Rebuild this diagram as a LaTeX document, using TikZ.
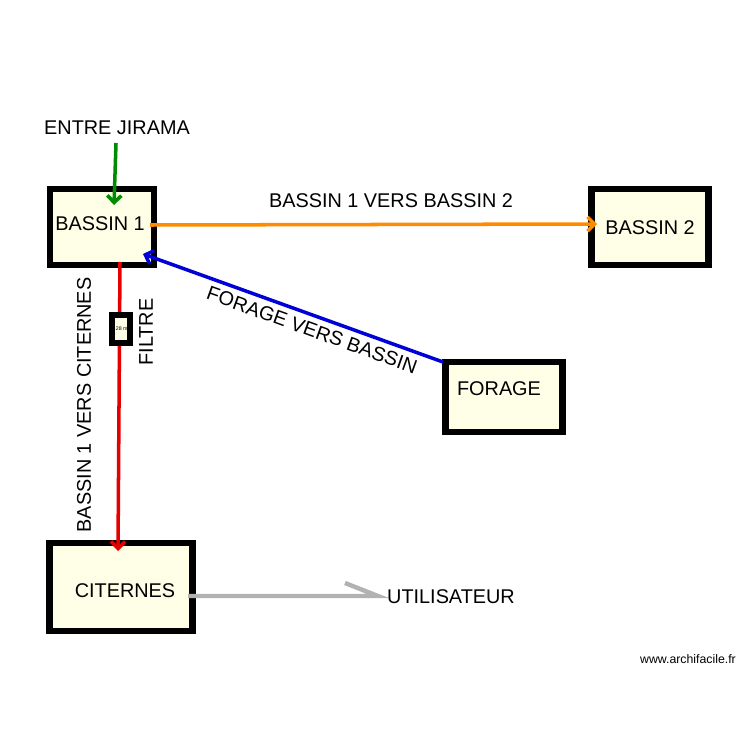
\documentclass[tikz,border=0pt]{standalone}
\usepackage{fontspec}
\setmainfont{Liberation Sans}
\usetikzlibrary{arrows.meta}
\begin{document}
\begin{tikzpicture}[x=0.02cm,y=-0.02cm,
 box/.style={draw=black,line width=3.5pt,fill=yellow!10!white,inner sep=0},
 lbl/.style={font=\fontsize{11.3}{13}\selectfont,inner sep=0},
 pipe/.style={line width=2pt,-{Straight Barb[length=4pt,width=8pt]}}]
\useasboundingbox[fill=white] (0,0) rectangle (750,750);
\node[box,minimum width=104*0.02cm,minimum height=76*0.02cm] (b1) at (102,227) {};
\node[box,minimum width=117*0.02cm,minimum height=76*0.02cm] (b2) at (650,227) {};
\node[box,minimum width=117*0.02cm,minimum height=70*0.02cm] (fo) at (504,397) {};
\node[box,minimum width=143*0.02cm,minimum height=88*0.02cm] (ci) at (121,587) {};
\node[lbl] at (100,224) {BASSIN 1};
\node[lbl] at (650,228) {BASSIN 2};
\node[lbl] at (499,389) {FORAGE};
\node[lbl] at (125,591) {CITERNES};
\coordinate (g0) at (116,143); \coordinate (g1) at (114,205);
\draw[pipe,green!55!black] (g0) -- (g1);
\coordinate (o0) at (150,225); \coordinate (o1) at (597,224);
\draw[pipe,orange!90!yellow] (o0) -- (o1);
\coordinate (bl0) at (443,362); \coordinate (bl1) at (143,254);
\draw[pipe,blue!85!black] (bl0) -- (bl1);
\coordinate (r0) at (120,262); \coordinate (r1) at (118,551);
\draw[pipe,red!90!black] (r0) -- (r1);
\coordinate (u0) at (188,596); \coordinate (u1) at (378,596);
\draw[line width=2.5pt,gray!60] (u0) -- (u1) -- (345,583);
\node[draw=black,line width=3pt,fill=yellow!10!white,minimum width=18*0.02cm,minimum height=28*0.02cm,inner sep=0,font=\fontsize{3}{3}\selectfont] (fi) at (121,329) {.28 m};
\node[lbl] at (117,128) {ENTRE JIRAMA};
\node[lbl] at (391,201) {BASSIN 1 VERS BASSIN 2};
\node[lbl,rotate=-19.8] at (312,330) {FORAGE VERS BASSIN};
\node[lbl,rotate=90] at (84,405) {BASSIN 1 VERS CITERNES};
\node[lbl,rotate=90] at (146,332) {FILTRE};
\node[lbl] at (451,597) {UTILISATEUR};
\node[inner sep=0,font=\fontsize{7}{8}\selectfont] at (688,659) {www.archifacile.fr};
\end{tikzpicture}
\end{document}
